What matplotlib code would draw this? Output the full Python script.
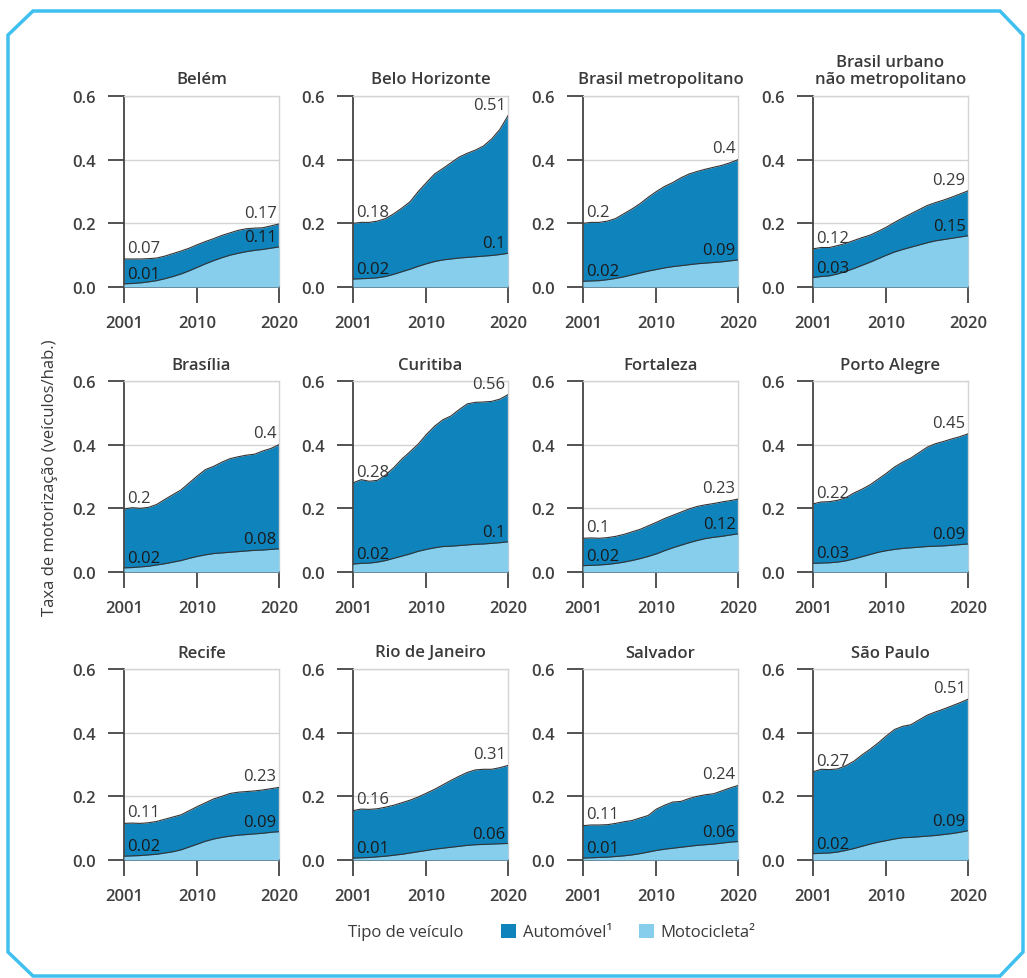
import numpy as np
import matplotlib.pyplot as plt
from matplotlib.patches import Polygon, Patch

plt.rcParams['font.family'] = ['Open Sans', 'DejaVu Sans']

anos = list(range(2001, 2021))

cidades = ["Belém", "Belo Horizonte", "Brasil metropolitano", "Brasil urbano\nnão metropolitano",
           "Brasília", "Curitiba", "Fortaleza", "Porto Alegre",
           "Recife", "Rio de Janeiro", "Salvador", "São Paulo"]

# Automóvel (curva superior)
auto_belem = [0.088, 0.088, 0.088, 0.089, 0.091, 0.097, 0.105, 0.113, 0.122, 0.133, 0.143, 0.152, 0.162, 0.170, 0.178, 0.183, 0.185, 0.186, 0.192, 0.198]
auto_bh = [0.200, 0.203, 0.203, 0.207, 0.215, 0.230, 0.248, 0.268, 0.300, 0.328, 0.355, 0.372, 0.390, 0.408, 0.420, 0.430, 0.443, 0.465, 0.495, 0.538]
auto_bmet = [0.200, 0.203, 0.203, 0.207, 0.215, 0.230, 0.245, 0.262, 0.282, 0.300, 0.316, 0.328, 0.343, 0.355, 0.363, 0.370, 0.376, 0.382, 0.390, 0.400]
auto_burb = [0.120, 0.124, 0.124, 0.130, 0.137, 0.146, 0.155, 0.163, 0.175, 0.188, 0.203, 0.217, 0.230, 0.243, 0.256, 0.265, 0.273, 0.282, 0.292, 0.302]
auto_bsb = [0.198, 0.202, 0.200, 0.203, 0.212, 0.228, 0.243, 0.258, 0.280, 0.302, 0.322, 0.332, 0.345, 0.356, 0.362, 0.367, 0.370, 0.380, 0.388, 0.400]
auto_cwb = [0.280, 0.290, 0.285, 0.288, 0.305, 0.328, 0.355, 0.378, 0.402, 0.432, 0.458, 0.478, 0.490, 0.510, 0.528, 0.533, 0.534, 0.536, 0.543, 0.557]
auto_for = [0.106, 0.107, 0.106, 0.108, 0.112, 0.118, 0.126, 0.134, 0.145, 0.156, 0.168, 0.178, 0.188, 0.198, 0.206, 0.211, 0.215, 0.220, 0.224, 0.229]
auto_poa = [0.214, 0.220, 0.221, 0.225, 0.233, 0.248, 0.260, 0.274, 0.292, 0.310, 0.330, 0.345, 0.358, 0.375, 0.392, 0.403, 0.410, 0.418, 0.425, 0.434]
auto_rec = [0.115, 0.116, 0.115, 0.117, 0.121, 0.128, 0.135, 0.142, 0.155, 0.168, 0.180, 0.192, 0.200, 0.209, 0.213, 0.215, 0.217, 0.220, 0.224, 0.228]
auto_rio = [0.155, 0.160, 0.159, 0.161, 0.166, 0.172, 0.180, 0.188, 0.198, 0.210, 0.222, 0.236, 0.250, 0.263, 0.275, 0.283, 0.285, 0.285, 0.290, 0.297]
auto_ssa = [0.108, 0.110, 0.110, 0.111, 0.115, 0.120, 0.124, 0.132, 0.140, 0.160, 0.172, 0.182, 0.184, 0.193, 0.200, 0.205, 0.208, 0.217, 0.226, 0.234]
auto_sp = [0.277, 0.285, 0.284, 0.286, 0.296, 0.310, 0.330, 0.348, 0.368, 0.390, 0.410, 0.420, 0.425, 0.440, 0.455, 0.465, 0.474, 0.484, 0.494, 0.505]

# Motocicleta (curva inferior)
moto_belem = [0.010, 0.011, 0.013, 0.016, 0.020, 0.026, 0.033, 0.041, 0.051, 0.062, 0.073, 0.083, 0.092, 0.100, 0.106, 0.111, 0.115, 0.118, 0.122, 0.126]
moto_bh = [0.025, 0.026, 0.027, 0.029, 0.033, 0.040, 0.048, 0.056, 0.065, 0.073, 0.080, 0.085, 0.088, 0.091, 0.093, 0.095, 0.097, 0.099, 0.102, 0.106]
moto_bmet = [0.018, 0.019, 0.020, 0.023, 0.027, 0.032, 0.038, 0.044, 0.050, 0.055, 0.060, 0.064, 0.067, 0.070, 0.073, 0.075, 0.077, 0.079, 0.082, 0.085]
moto_burb = [0.030, 0.033, 0.035, 0.041, 0.049, 0.058, 0.068, 0.078, 0.089, 0.100, 0.110, 0.118, 0.125, 0.132, 0.139, 0.145, 0.149, 0.153, 0.157, 0.161]
moto_bsb = [0.013, 0.014, 0.016, 0.018, 0.022, 0.026, 0.031, 0.036, 0.043, 0.049, 0.054, 0.058, 0.060, 0.062, 0.064, 0.066, 0.068, 0.069, 0.071, 0.073]
moto_cwb = [0.025, 0.027, 0.028, 0.031, 0.036, 0.043, 0.050, 0.057, 0.065, 0.071, 0.076, 0.080, 0.081, 0.083, 0.085, 0.087, 0.088, 0.090, 0.092, 0.095]
moto_for = [0.020, 0.021, 0.022, 0.024, 0.027, 0.031, 0.036, 0.042, 0.049, 0.057, 0.067, 0.076, 0.084, 0.092, 0.099, 0.105, 0.109, 0.112, 0.116, 0.120]
moto_poa = [0.027, 0.028, 0.029, 0.031, 0.035, 0.041, 0.048, 0.055, 0.062, 0.067, 0.071, 0.074, 0.076, 0.078, 0.080, 0.081, 0.082, 0.084, 0.086, 0.088]
moto_rec = [0.012, 0.013, 0.014, 0.016, 0.018, 0.022, 0.026, 0.032, 0.041, 0.050, 0.059, 0.066, 0.071, 0.075, 0.078, 0.080, 0.082, 0.084, 0.087, 0.089]
moto_rio = [0.006, 0.007, 0.008, 0.010, 0.012, 0.015, 0.018, 0.022, 0.026, 0.030, 0.034, 0.037, 0.040, 0.043, 0.046, 0.048, 0.049, 0.050, 0.051, 0.052]
moto_ssa = [0.006, 0.007, 0.008, 0.009, 0.011, 0.013, 0.016, 0.020, 0.025, 0.030, 0.034, 0.037, 0.040, 0.043, 0.046, 0.048, 0.050, 0.053, 0.056, 0.058]
moto_sp = [0.020, 0.021, 0.022, 0.025, 0.030, 0.036, 0.043, 0.050, 0.056, 0.061, 0.066, 0.070, 0.071, 0.073, 0.075, 0.077, 0.080, 0.083, 0.087, 0.092]

automovel = [auto_belem, auto_bh, auto_bmet, auto_burb, auto_bsb, auto_cwb,
             auto_for, auto_poa, auto_rec, auto_rio, auto_ssa, auto_sp]
motocicleta = [moto_belem, moto_bh, moto_bmet, moto_burb, moto_bsb, moto_cwb,
               moto_for, moto_poa, moto_rec, moto_rio, moto_ssa, moto_sp]

# rotulos (inicio, fim) como aparecem no grafico
rot_auto = [("0.07", "0.17"), ("0.18", "0.51"), ("0.2", "0.4"), ("0.12", "0.29"),
            ("0.2", "0.4"), ("0.28", "0.56"), ("0.1", "0.23"), ("0.22", "0.45"),
            ("0.11", "0.23"), ("0.16", "0.31"), ("0.11", "0.24"), ("0.27", "0.51")]
rot_moto = [("0.01", "0.11"), ("0.02", "0.1"), ("0.02", "0.09"), ("0.03", "0.15"),
            ("0.02", "0.08"), ("0.02", "0.1"), ("0.02", "0.12"), ("0.03", "0.09"),
            ("0.02", "0.09"), ("0.01", "0.06"), ("0.01", "0.06"), ("0.02", "0.09")]

COR_AUTO = "#0f83bc"
COR_MOTO = "#87cdec"
COR_BORDA = "#3fc0ef"
COR_TXT = "#3a3a3a"
FS = 12

W, H = 1027, 979
fig = plt.figure(figsize=(W / 100, H / 100), dpi=100)

col_x = [124, 353, 583, 813]
lin_y = [97, 382, 670]
aw, ah = 155, 191

for i, nome in enumerate(cidades):
    r, c = divmod(i, 4)
    ax = fig.add_axes([col_x[c] / W, 1 - (lin_y[r] + ah) / H, aw / W, ah / H])
    a = automovel[i]
    m = motocicleta[i]
    ax.fill_between(anos, 0, a, color=COR_AUTO, lw=0, zorder=2)
    ax.plot(anos, a, color="#333333", lw=0.8, zorder=3)
    ax.fill_between(anos, 0, m, color=COR_MOTO, lw=0, zorder=4)
    ax.plot(anos, m, color="#333333", lw=0.8, zorder=5)

    ax.set_xlim(2001, 2020)
    ax.set_ylim(0, 0.6)
    ax.set_xticks([2001, 2010, 2020])
    ax.set_yticks([0.0, 0.2, 0.4, 0.6])
    ax.set_yticklabels(["0.0", "0.2", "0.4", "0.6"])
    ax.grid(axis="y", color="#d4d4d4", lw=1.0, zorder=1)
    ax.set_axisbelow(True)
    for s in ["top", "right"]:
        ax.spines[s].set_color("#d4d4d4")
        ax.spines[s].set_linewidth(1.0)
    for s in ["left", "bottom"]:
        ax.spines[s].set_color("#444444")
        ax.spines[s].set_linewidth(1.3)
    ax.tick_params(length=11.5, width=1.3, color="#444444", pad=9,
                   labelsize=FS, labelcolor="#404040")
    for lbl in ax.get_xticklabels() + ax.get_yticklabels():
        lbl.set_fontweight("semibold")
    ax.set_title(nome, fontsize=FS, color=COR_TXT, pad=9, fontweight="semibold",
                 linespacing=1.1)

    # rotulos de valor
    ax.text(2001.4, a[0] + 0.01, rot_auto[i][0], fontsize=FS, color=COR_TXT,
            ha="left", va="bottom", zorder=6)
    ax.text(2019.7, a[-1] + 0.01, rot_auto[i][1], fontsize=FS, color=COR_TXT,
            ha="right", va="bottom", zorder=6)
    ax.text(2001.4, m[0] + 0.006, rot_moto[i][0], fontsize=FS, color="#1a1a1a",
            ha="left", va="bottom", zorder=6)
    ax.text(2019.7, m[-1] + 0.006, rot_moto[i][1], fontsize=FS, color="#1a1a1a",
            ha="right", va="bottom", zorder=6)

fig.text(50 / W, 1 - 478 / H, "Taxa de motorização (veículos/hab.)", rotation=90,
         ha="center", va="center", fontsize=FS, color=COR_TXT)

# legenda
fig.text(463 / W, 1 - 933 / H, "Tipo de veículo", ha="right", va="center",
         fontsize=FS, color=COR_TXT)
handles = [Patch(facecolor=COR_AUTO, label="Automóvel¹"),
           Patch(facecolor=COR_MOTO, label="Motocicleta²")]
fig.legend(handles=handles, loc="center left", bbox_to_anchor=(486 / W, 1 - 933 / H),
           ncol=2, frameon=False, fontsize=FS, handlelength=0.9, handleheight=0.9,
           handletextpad=0.4, columnspacing=1.6, labelcolor=COR_TXT)

# moldura com cantos chanfrados
px = [8, 33, 1000, 1023, 1023, 1000, 33, 8]
py = [36, 12, 12, 36, 953, 977, 977, 953]
moldura = Polygon([(x / W, 1 - y / H) for x, y in zip(px, py)], closed=True,
                  fill=False, edgecolor=COR_BORDA, lw=2.5, transform=fig.transFigure)
fig.add_artist(moldura)

fig.savefig("out.png", dpi=100, facecolor="white")
